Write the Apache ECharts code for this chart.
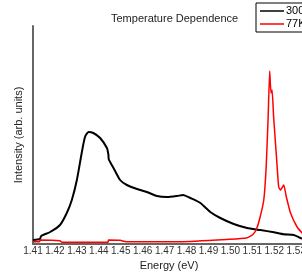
<!DOCTYPE html>
<html>
<head>
<meta charset="utf-8">
<script src="https://cdn.jsdelivr.net/npm/echarts@6/dist/echarts.min.js"></script>
<style>
  html, body { margin: 0; padding: 0; background: #fff; }
  #chart { width: 302px; height: 272px; }
</style>
</head>
<body>
<div id="chart"></div>
<script>
// 300K 曲线 (能量 eV / 强度 arb.)
const blackEnergy = [1.4100, 1.4132, 1.4137, 1.4178, 1.4223, 1.4254, 1.4277, 1.4300, 1.4322, 1.4337,
  1.4353, 1.4375, 1.4406, 1.4437, 1.4444, 1.4445, 1.4467, 1.4497, 1.4528, 1.4574,
  1.4619, 1.4665, 1.4711, 1.4756, 1.4784, 1.4817, 1.4863, 1.4908, 1.4954, 1.5015,
  1.5076, 1.5137, 1.5198, 1.5243, 1.5289, 1.5319, 1.5333]
const blackIntensity = [4, 5, 8, 12, 19, 31, 44, 64, 91, 107,
  112, 111, 106, 96, 89, 85, 76, 64, 59, 55,
  52, 48, 47, 48, 49, 46, 41, 32, 26, 20,
  16, 14, 11.7, 9.7, 9, 6, 5]

// 77K 曲线
const redEnergy = [1.4100, 1.4130, 1.4132, 1.4223, 1.4232, 1.4442, 1.4444, 1.4497, 1.4525, 1.4771,
  1.4995, 1.5073, 1.5100, 1.5117, 1.5132, 1.5152, 1.5163, 1.5172, 1.5179, 1.5185,
  1.5190, 1.5197, 1.5210, 1.5220, 1.5228, 1.5243, 1.5255, 1.5274, 1.5304, 1.5327, 1.5337]
const redIntensity = [2.3, 2.3, 4, 3.3, 1.7, 1.7, 4, 3.7, 2.3, 2.3,
  4.7, 6, 9, 14, 24, 44, 77, 127, 173, 151,
  154, 127, 87, 57, 54, 59, 47, 31, 17, 11, 9]

const seriesNames = ['300K', '77K']

const font = '"Liberation Sans", Arial, sans-serif'
const toPairs = (xs, ys) => xs.map((x, i) => [x, ys[i]])

const chart = echarts.init(document.getElementById('chart'))
chart.setOption({
  animation: false,
  backgroundColor: '#fff',
  title: {
    text: 'Temperature Dependence',
    left: 106,
    top: 8,
    textStyle: { fontFamily: font, fontSize: 11, fontWeight: 'normal', color: '#222' }
  },
  legend: {
    orient: 'vertical',
    left: 256,
    top: 3,
    padding: [2, 4, 2, 4],
    itemGap: 1,
    itemWidth: 24,
    itemHeight: 1.5,
    borderColor: '#000',
    borderWidth: 1,
    backgroundColor: '#fff',
    textStyle: { fontFamily: font, fontSize: 11, color: '#000', lineHeight: 12, padding: [0, 0, 0, -3] },
    data: seriesNames.map(n => ({ name: n, icon: 'rect' }))
  },
  grid: { left: 33, top: 26, bottom: 28, width: 272, outerBoundsMode: 'none' },
  xAxis: {
    type: 'value',
    min: 1.41,
    max: 1.534,
    interval: 0.01,
    name: 'Energy (eV)',
    nameLocation: 'middle',
    nameGap: 16,
    nameTextStyle: { fontFamily: font, fontSize: 11, color: '#222' },
    axisLine: { lineStyle: { color: '#666', width: 2 } },
    axisTick: { show: false },
    splitLine: { show: false },
    axisLabel: {
      fontFamily: font, fontSize: 10, color: '#333', margin: 2,
      showMaxLabel: false,
      formatter: v => v.toFixed(2)
    }
  },
  yAxis: {
    type: 'value',
    min: 0,
    max: 218,
    name: 'Intensity (arb. units)',
    nameLocation: 'middle',
    nameGap: 9,
    nameTextStyle: { fontFamily: font, fontSize: 11, color: '#222' },
    axisLine: { show: true, lineStyle: { color: '#666', width: 2 } },
    axisTick: { show: false },
    axisLabel: { show: false },
    splitLine: { show: false }
  },
  series: [
    {
      name: seriesNames[0],
      type: 'line',
      data: toPairs(blackEnergy, blackIntensity),
      symbol: 'none',
      smooth: 0.2,
      lineStyle: { color: '#000', width: 2 },
      itemStyle: { color: '#000' }
    },
    {
      name: seriesNames[1],
      type: 'line',
      data: toPairs(redEnergy, redIntensity),
      symbol: 'none',
      smooth: 0.15,
      lineStyle: { color: '#f00', width: 1.5 },
      itemStyle: { color: '#f00' }
    }
  ]
})
</script>
</body>
</html>
